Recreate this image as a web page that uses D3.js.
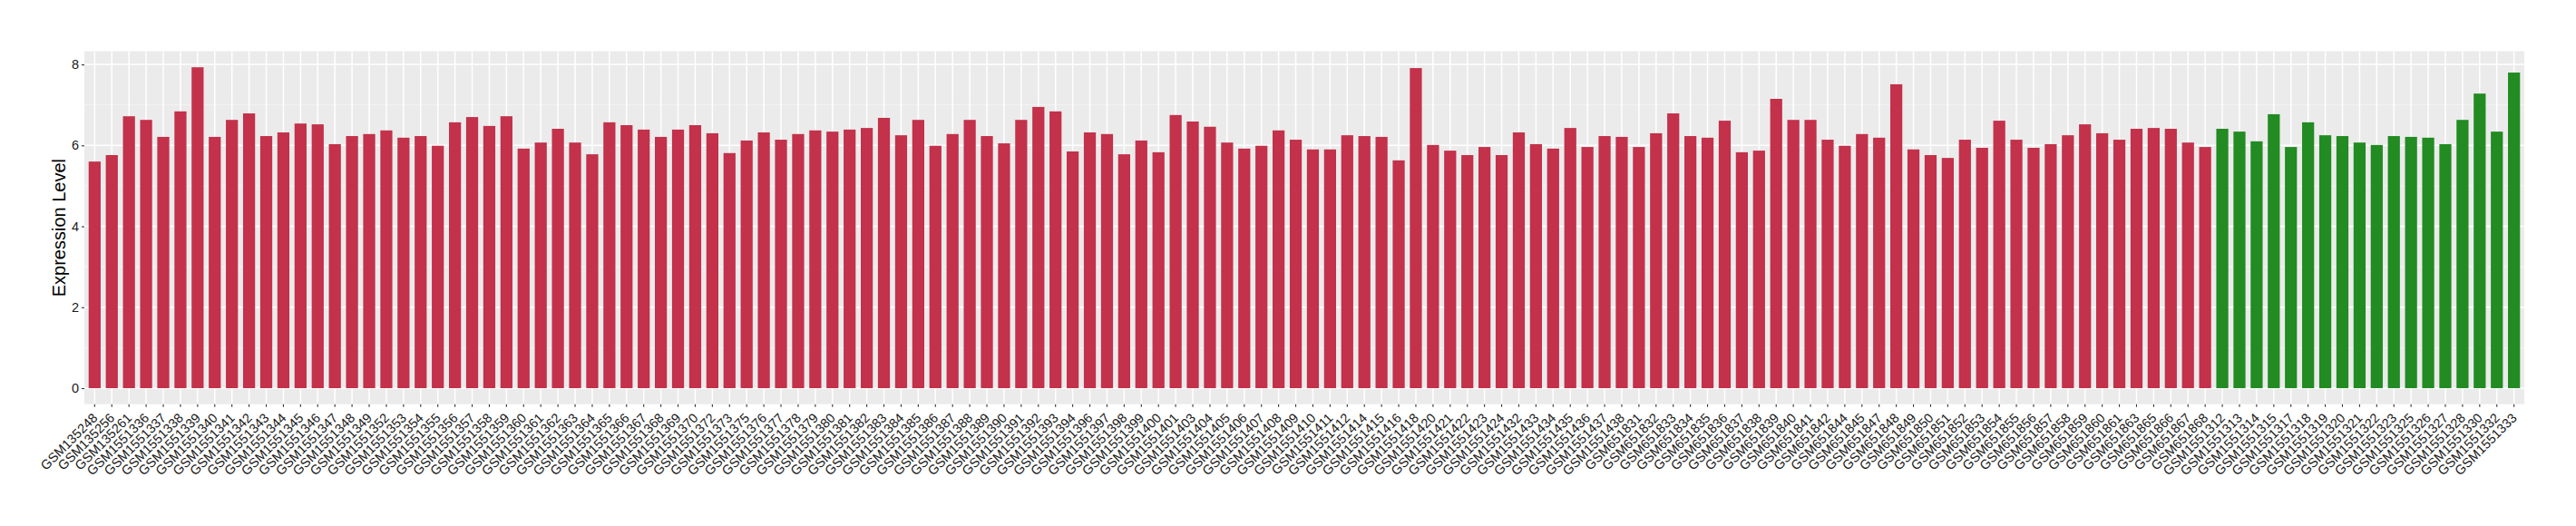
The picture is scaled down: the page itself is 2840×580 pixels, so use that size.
<!DOCTYPE html>
<meta charset="utf-8">
<style>
  body {
    margin: 0;
    overflow: hidden;
    background: white;
  }
  text {
    font-family: "Liberation Sans", Arial, sans-serif;
  }
</style>
<body>
</body>
<script src="https://d3js.org/d3.v7.min.js"></script>
<script>

// samples drawn in red
var redSamples = [
  "GSM135248", "GSM135256", "GSM135261",
  "GSM1551336", "GSM1551337", "GSM1551338", "GSM1551339", "GSM1551340", "GSM1551341", "GSM1551342",
  "GSM1551343", "GSM1551344", "GSM1551345", "GSM1551346", "GSM1551347", "GSM1551348", "GSM1551349",
  "GSM1551352", "GSM1551353", "GSM1551354", "GSM1551355", "GSM1551356", "GSM1551357", "GSM1551358",
  "GSM1551359", "GSM1551360", "GSM1551361", "GSM1551362", "GSM1551363", "GSM1551364", "GSM1551365",
  "GSM1551366", "GSM1551367", "GSM1551368", "GSM1551369", "GSM1551370", "GSM1551372", "GSM1551373",
  "GSM1551375", "GSM1551376", "GSM1551377", "GSM1551378", "GSM1551379", "GSM1551380", "GSM1551381",
  "GSM1551382", "GSM1551383", "GSM1551384", "GSM1551385", "GSM1551386", "GSM1551387", "GSM1551388",
  "GSM1551389", "GSM1551390", "GSM1551391", "GSM1551392", "GSM1551393", "GSM1551394", "GSM1551396",
  "GSM1551397", "GSM1551398", "GSM1551399", "GSM1551400", "GSM1551401", "GSM1551403", "GSM1551404",
  "GSM1551405", "GSM1551406", "GSM1551407", "GSM1551408", "GSM1551409", "GSM1551410", "GSM1551411",
  "GSM1551412", "GSM1551414", "GSM1551415", "GSM1551416", "GSM1551418", "GSM1551420", "GSM1551421",
  "GSM1551422", "GSM1551423", "GSM1551424", "GSM1551432", "GSM1551433", "GSM1551434", "GSM1551435",
  "GSM1551436", "GSM1551437", "GSM1551438",
  "GSM651831", "GSM651832", "GSM651833", "GSM651834", "GSM651835", "GSM651836", "GSM651837",
  "GSM651838", "GSM651839", "GSM651840", "GSM651841", "GSM651842", "GSM651844", "GSM651845",
  "GSM651847", "GSM651848", "GSM651849", "GSM651850", "GSM651851", "GSM651852", "GSM651853",
  "GSM651854", "GSM651855", "GSM651856", "GSM651857", "GSM651858", "GSM651859", "GSM651860",
  "GSM651861", "GSM651863", "GSM651865", "GSM651866", "GSM651867", "GSM651868"
];

var redValues = [
  5.60, 5.76, 6.72, 6.63, 6.21, 6.84, 7.93, 6.21, 6.63, 6.79,
  6.23, 6.32, 6.54, 6.52, 6.03, 6.23, 6.28, 6.37, 6.19, 6.23,
  5.99, 6.57, 6.70, 6.48, 6.72, 5.92, 6.07, 6.41, 6.07, 5.78,
  6.57, 6.50, 6.39, 6.21, 6.39, 6.50, 6.30, 5.81, 6.12, 6.32,
  6.14, 6.28, 6.37, 6.34, 6.39, 6.43, 6.68, 6.25, 6.63, 5.99,
  6.28, 6.63, 6.23, 6.05, 6.63, 6.95, 6.84, 5.85, 6.32, 6.28,
  5.78, 6.12, 5.83, 6.75, 6.59, 6.46, 6.07, 5.92, 5.99, 6.37,
  6.14, 5.90, 5.90, 6.25, 6.23, 6.21, 5.63, 7.91, 6.01, 5.87,
  5.76, 5.96, 5.76, 6.32, 6.03, 5.92, 6.43, 5.96, 6.23, 6.21,
  5.96, 6.30, 6.79, 6.23, 6.19, 6.61, 5.83, 5.87, 7.15, 6.63,
  6.63, 6.14, 5.99, 6.28, 6.19, 7.51, 5.90, 5.76, 5.69, 6.14,
  5.94, 6.61, 6.14, 5.94, 6.03, 6.25, 6.52, 6.30, 6.14, 6.41,
  6.43, 6.41, 6.07, 5.96
];

// samples drawn in green
var greenSamples = [
  "GSM1551312", "GSM1551313", "GSM1551314", "GSM1551315", "GSM1551317", "GSM1551318",
  "GSM1551319", "GSM1551320", "GSM1551321", "GSM1551322", "GSM1551323", "GSM1551325",
  "GSM1551326", "GSM1551327", "GSM1551328", "GSM1551330", "GSM1551332", "GSM1551333"
];

var greenValues = [
  6.41, 6.34, 6.10, 6.77, 5.96, 6.57, 6.25, 6.23, 6.07, 6.01,
  6.23, 6.21, 6.19, 6.03, 6.63, 7.28, 6.34, 7.80
];

var yTicks = [0, 2, 4, 6, 8];
var yTitle = "Expression Level";

var colors = {red: "#C3314A", green: "#228B22"};

var data = redSamples.map(function(s, i) {
  return {sample: s, value: redValues[i], color: colors.red};
}).concat(greenSamples.map(function(s, i) {
  return {sample: s, value: greenValues[i], color: colors.green};
}));

var width = 2840,
    height = 580,
    panel = {left: 93, right: 2783, top: 56.5, bottom: 445.7};

var svg = d3.select("body").append("svg")
    .attr("width", width)
    .attr("height", height);

var maxV = d3.max(data, d => d.value);

var x = d3.scaleBand()
    .domain(data.map(d => d.sample))
    .range([panel.left, panel.right])
    .paddingInner(0.3)
    .paddingOuter(0.25);

var y = d3.scaleLinear()
    .domain([-maxV * 0.05, maxV * 1.05])
    .range([panel.bottom, panel.top]);

// panel background
svg.append("rect")
    .attr("x", panel.left)
    .attr("y", panel.top)
    .attr("width", panel.right - panel.left)
    .attr("height", panel.bottom - panel.top)
    .style("fill", "#EBEBEB");

var grid = svg.append("g");

// minor horizontal grid
grid.selectAll(".minor")
    .data(d3.range(1, 9, 2))
    .enter().append("line")
    .attr("x1", panel.left).attr("x2", panel.right)
    .attr("y1", d => y(d)).attr("y2", d => y(d))
    .style("stroke", "#F7F7F7")
    .style("stroke-width", 0.8);

// major horizontal grid
grid.selectAll(".major")
    .data(yTicks)
    .enter().append("line")
    .attr("x1", panel.left).attr("x2", panel.right)
    .attr("y1", d => y(d)).attr("y2", d => y(d))
    .style("stroke", "white")
    .style("stroke-width", 1.5);

// vertical grid at each category
grid.selectAll(".vgrid")
    .data(data)
    .enter().append("line")
    .attr("x1", d => x(d.sample) + x.bandwidth() / 2)
    .attr("x2", d => x(d.sample) + x.bandwidth() / 2)
    .attr("y1", panel.top).attr("y2", panel.bottom)
    .style("stroke", "white")
    .style("stroke-width", 1.5);

svg.append("g").selectAll("rect")
    .data(data)
    .enter().append("rect")
    .attr("x", d => x(d.sample))
    .attr("width", x.bandwidth())
    .attr("y", d => y(d.value))
    .attr("height", d => y(0) - y(d.value))
    .style("fill", d => d.color);

// y axis
var yAxis = svg.append("g")
    .attr("transform", "translate(" + panel.left + ",0)")
    .call(d3.axisLeft(y).tickValues(yTicks).tickSize(3).tickPadding(3).tickFormat(d3.format("d")));
yAxis.select(".domain").remove();
yAxis.selectAll("line").style("stroke", "#333333").style("stroke-width", 1.1);
yAxis.selectAll("text")
    .style("font-size", "14.5px")
    .style("fill", "#1A1A1A")
    .style("font-family", "'Liberation Sans', Arial, sans-serif");

// x axis
var xAxis = svg.append("g")
    .attr("transform", "translate(0," + panel.bottom + ")")
    .call(d3.axisBottom(x).tickSize(3).tickPadding(3));
xAxis.select(".domain").remove();
xAxis.selectAll("line").style("stroke", "#333333").style("stroke-width", 1.1);
xAxis.selectAll("text")
    .style("font-size", "14.5px")
    .style("fill", "#1A1A1A")
    .style("font-family", "'Liberation Sans', Arial, sans-serif")
    .style("text-anchor", "end")
    .attr("dy", null)
    .attr("y", 0)
    .attr("transform", "translate(4,16) rotate(-45)");

svg.append("text")
    .attr("transform", "translate(72," + ((panel.top + panel.bottom) / 2) + ") rotate(-90)")
    .style("text-anchor", "middle")
    .style("font-size", "20px")
    .style("fill", "black")
    .text(yTitle);

</script>
